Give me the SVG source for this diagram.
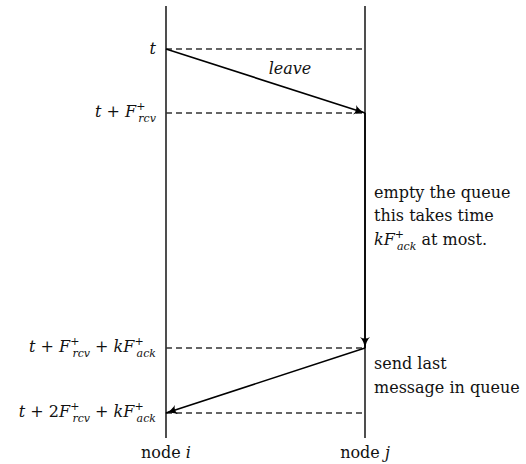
<svg xmlns="http://www.w3.org/2000/svg" width="526" height="464" viewBox="0 0 526 464">
<style>
text{font-family:"DejaVu Serif",serif;font-size:16px;fill:#111}
.it{font-style:italic}
.s{font-size:11px}
.life{stroke:#222;stroke-width:1.6;fill:none}
.dash{stroke:#333;stroke-width:1.3;stroke-dasharray:6,4;fill:none}
.msg{stroke:#000;stroke-width:1.6;fill:none;marker-end:url(#ah)}
</style>
<defs>
<marker id="ah" viewBox="0 0 12 10" refX="11" refY="5" markerWidth="12" markerHeight="10" markerUnits="userSpaceOnUse" orient="auto">
<path d="M0,0 Q4,4 12,5 Q4,6 0,10 Q3,5 0,0Z" fill="#000"/>
</marker>
</defs>
<g id="node-i">
<line class="life" x1="166" y1="6" x2="166" y2="438"/>
<text x="166" y="458" text-anchor="middle">node <tspan class="it">i</tspan></text>
</g>
<g id="node-j">
<line class="life" x1="365" y1="6" x2="365" y2="438"/>
<text x="365" y="458" text-anchor="middle">node <tspan class="it">j</tspan></text>
</g>
<g id="time-labels">
<text x="156" y="54" text-anchor="end" class="it">t</text>
<text x="156" y="117" text-anchor="end"><tspan class="it">t</tspan> + <tspan class="it">F</tspan><tspan class="s" dy="-7">+</tspan><tspan class="s it" dx="-7" dy="12">rcv</tspan></text>
<text x="156" y="352" text-anchor="end"><tspan class="it">t</tspan> + <tspan class="it">F</tspan><tspan class="s" dy="-7">+</tspan><tspan class="s it" dx="-7" dy="12">rcv</tspan><tspan dy="-5"> + </tspan><tspan class="it">kF</tspan><tspan class="s" dy="-7">+</tspan><tspan class="s it" dx="-7" dy="12">ack</tspan></text>
<text x="156" y="417" text-anchor="end"><tspan class="it">t</tspan> + 2<tspan class="it">F</tspan><tspan class="s" dy="-7">+</tspan><tspan class="s it" dx="-7" dy="12">rcv</tspan><tspan dy="-5"> + </tspan><tspan class="it">kF</tspan><tspan class="s" dy="-7">+</tspan><tspan class="s it" dx="-7" dy="12">ack</tspan></text>
</g>
<g id="notes">
<text x="374" y="198">empty the queue</text>
<text x="374" y="221">this takes time</text>
<text x="374" y="245"><tspan class="it">kF</tspan><tspan class="s" dy="-7">+</tspan><tspan class="s it" dx="-7" dy="12">ack</tspan><tspan dy="-5"> at most.</tspan></text>
<text x="374" y="369">send last</text>
<text x="374" y="393">message in queue</text>
<text x="290" y="74" text-anchor="middle" class="it">leave</text>
</g>
<g id="connectors">
<line class="dash" x1="166" y1="49" x2="365" y2="49"/>
<line class="dash" x1="166" y1="113" x2="365" y2="113"/>
<line class="dash" x1="166" y1="348" x2="365" y2="348"/>
<line class="dash" x1="166" y1="413" x2="365" y2="413"/>
<line class="msg" x1="166" y1="49" x2="365" y2="113"/>
<line class="msg" x1="365" y1="113" x2="365" y2="348"/>
<line class="msg" x1="365" y1="348" x2="166" y2="413"/>
</g>
</svg>
